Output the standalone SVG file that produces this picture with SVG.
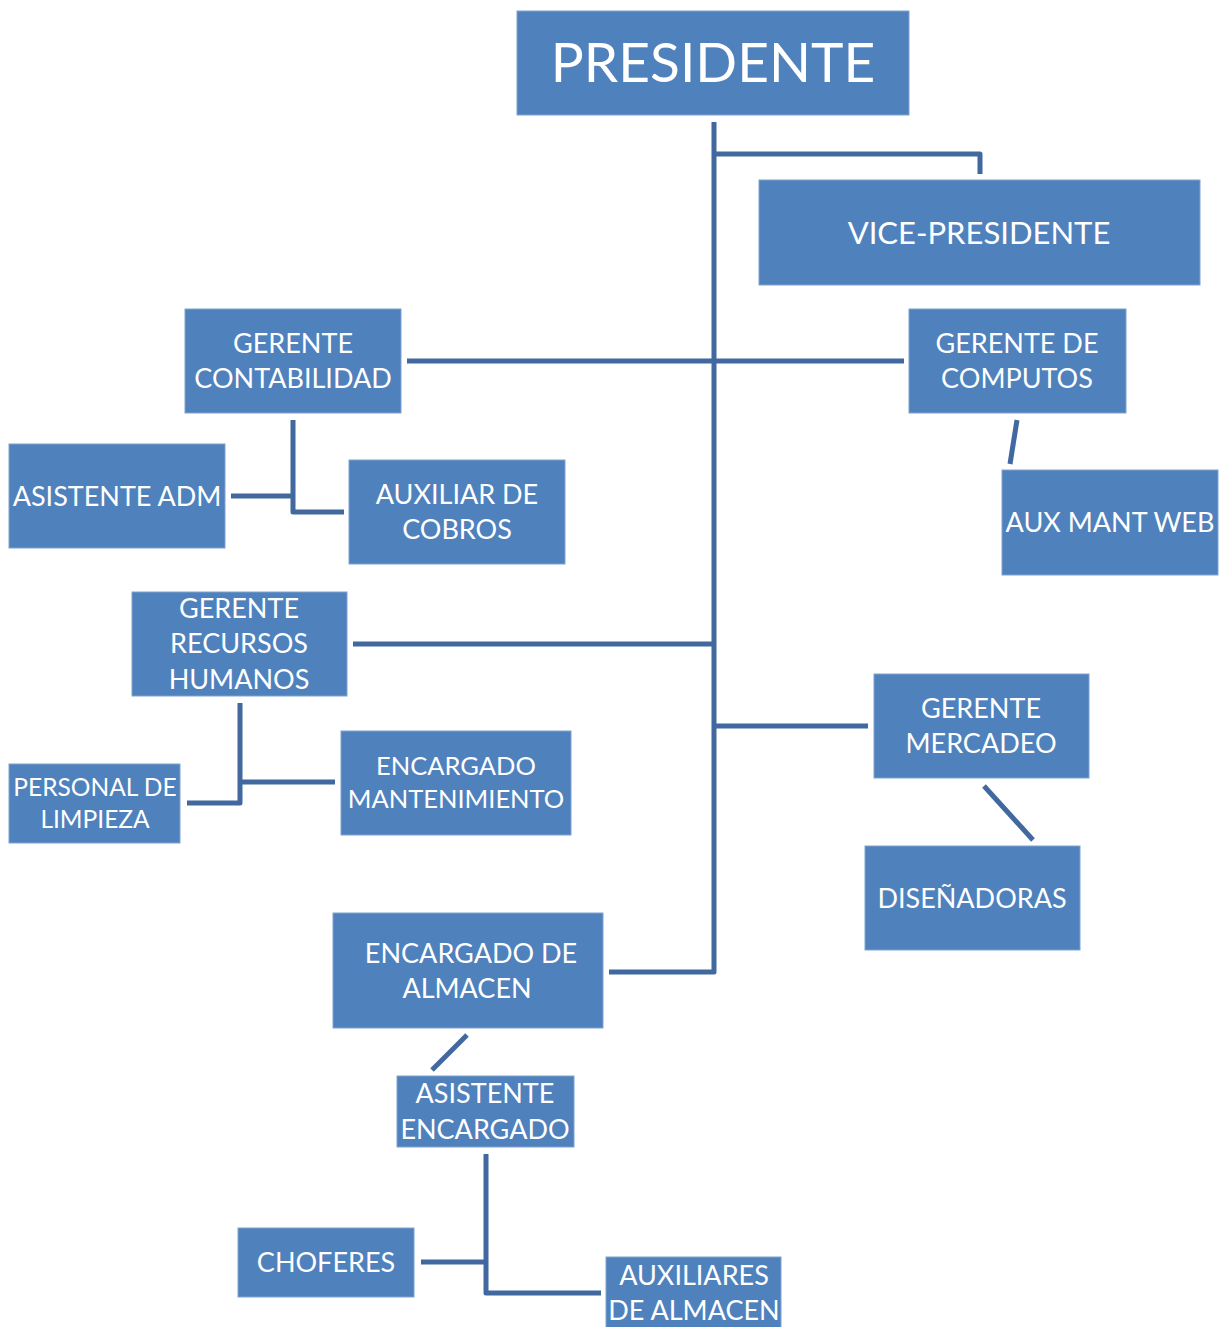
<svg xmlns="http://www.w3.org/2000/svg" width="1220" height="1327" viewBox="0 0 1220 1327">
<style>
.box{fill:#4F81BD;stroke:#7FA3D0;stroke-width:1}
.t{font-family:Lato,"Open Sans","Liberation Sans",sans-serif;fill:#fff;text-anchor:middle;font-size:27px}
.c{fill:none;stroke:#4169A0;stroke-width:5;stroke-linejoin:round}
</style>
<rect width="1220" height="1327" fill="#fff"/>
<g id="connectors">
<path class="c" d="M714,122 V972 H609"/>
<path class="c" d="M714,154 H980 V174"/>
<path class="c" d="M407,361 H904"/>
<path class="c" d="M353,644 H714"/>
<path class="c" d="M714,726 H868"/>
<path class="c" d="M1017,420 L1010,464"/>
<path class="c" d="M293,420 V512 H344 M231,496 H293"/>
<path class="c" d="M240,703 V803 H187 M240,782 H335"/>
<path class="c" d="M984,786 L1033,840"/>
<path class="c" d="M467,1035 L432,1070"/>
<path class="c" d="M486,1154 V1293 H601 M421,1262 H486"/>
</g>
<g id="presidente"><rect class="box" x="517" y="11" width="392" height="104"/><text class="t" x="713" y="82" style="font-size:55px">PRESIDENTE</text></g>
<g id="vicepresidente"><rect class="box" x="759" y="180" width="441" height="105"/><text class="t" x="979" y="244" style="font-size:31px">VICE-PRESIDENTE</text></g>
<g id="gerente-contabilidad"><rect class="box" x="185" y="309" width="216" height="104"/><text class="t" x="293" y="353">GERENTE</text><text class="t" x="293" y="388">CONTABILIDAD</text></g>
<g id="gerente-computos"><rect class="box" x="909" y="309" width="217" height="104"/><text class="t" x="1017" y="353">GERENTE DE</text><text class="t" x="1017" y="388">COMPUTOS</text></g>
<g id="aux-mant-web"><rect class="box" x="1002" y="470" width="216" height="105"/><text class="t" x="1110" y="532">AUX MANT WEB</text></g>
<g id="asistente-adm"><rect class="box" x="9" y="444" width="216" height="104"/><text class="t" x="117" y="506">ASISTENTE ADM</text></g>
<g id="auxiliar-cobros"><rect class="box" x="349" y="460" width="216" height="104"/><text class="t" x="457" y="504">AUXILIAR DE</text><text class="t" x="457" y="539">COBROS</text></g>
<g id="gerente-rrhh"><rect class="box" x="132" y="592" width="215" height="104"/><text class="t" x="239" y="618">GERENTE</text><text class="t" x="239" y="653">RECURSOS</text><text class="t" x="239" y="689">HUMANOS</text></g>
<g id="personal-limpieza"><rect class="box" x="9" y="764" width="171" height="79"/><text class="t" x="95" y="796" style="font-size:24.5px">PERSONAL DE</text><text class="t" x="95" y="828" style="font-size:24.5px">LIMPIEZA</text></g>
<g id="encargado-mantenimiento"><rect class="box" x="341" y="731" width="230" height="104"/><text class="t" x="456" y="775" style="font-size:25.5px">ENCARGADO</text><text class="t" x="456" y="808" style="font-size:25.5px">MANTENIMIENTO</text></g>
<g id="gerente-mercadeo"><rect class="box" x="874" y="674" width="215" height="104"/><text class="t" x="981" y="718">GERENTE</text><text class="t" x="981" y="753">MERCADEO</text></g>
<g id="disenadoras"><rect class="box" x="865" y="846" width="215" height="104"/><text class="t" x="972" y="908">DISEÑADORAS</text></g>
<g id="encargado-almacen"><rect class="box" x="333" y="913" width="270" height="115"/><text class="t" x="471" y="963">ENCARGADO DE</text><text class="t" x="467" y="998">ALMACEN</text></g>
<g id="asistente-encargado"><rect class="box" x="397" y="1076" width="177" height="71"/><text class="t" x="485" y="1103">ASISTENTE</text><text class="t" x="485" y="1139">ENCARGADO</text></g>
<g id="choferes"><rect class="box" x="238" y="1228" width="176" height="69"/><text class="t" x="326" y="1272">CHOFERES</text></g>
<g id="auxiliares-almacen"><rect class="box" x="606" y="1257" width="175" height="72"/><text class="t" x="694" y="1285">AUXILIARES</text><text class="t" x="694" y="1320">DE ALMACEN</text></g>
</svg>
